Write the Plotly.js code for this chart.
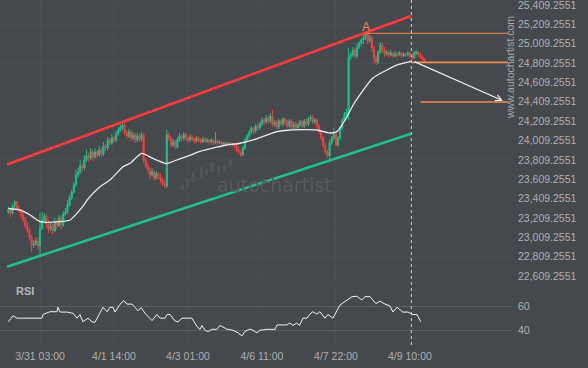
<!DOCTYPE html>
<html><head><meta charset="utf-8">
<script src="https://cdn.plot.ly/plotly-3.0.1.min.js"></script>
<style>html,body{margin:0;padding:0;background:#45484c;}#chart{width:588px;height:368px;}</style>
</head><body><div id="chart"></div>
<script>
const opens=[
23271,23292,23261,23333,23374,23312,23281,23240,23188,23126,
23085,23013,22930,22941,22971,22920,23106,23188,23230,23147,
23095,23126,23075,23168,23126,23209,23137,23250,23271,23343,
23416,23478,23550,23653,23684,23746,23726,23808,23850,23829,
23891,23839,23891,23860,23912,23870,23953,23932,24015,23984,
24035,24015,24077,24118,24139,24170,24087,24056,24097,24035,
24066,24015,24056,24025,24066,23808,23746,23705,23653,23684,
23622,23664,23643,23602,23560,23540,24066,24035,23963,23994,
23943,24015,24056,24035,24077,24035,24015,24046,24025,24004,
24035,24015,23994,24025,24004,24015,23994,24015,23984,24004,
23984,23994,23973,23984,23973,23984,23963,23973,23953,23912,
23891,23860,23932,24015,24056,24097,24139,24108,24159,24139,
24180,24221,24201,24242,24211,24263,24170,24201,24149,24211,
24180,24232,24201,24159,24211,24149,24180,24139,24170,24201,
24159,24211,24180,24232,24252,24201,24221,24159,24097,24035,
23953,23891,23850,23984,24035,24077,23963,24035,24139,24221,
24273,24304,24872,24893,24944,24883,24975,25017,25048,25068,
25110,25037,25068,24965,24862,24821,24924,24996,24944,24903,
24924,24893,24913,24883,24903,24893,24913,24883,24903,24893,
24913,24883,24862,24913,24924,24893,24872,24841];
const highs=[
23323,23312,23354,23395,23385,23343,23302,23271,23219,23168,
23106,23034,22982,23003,23013,23261,23271,23261,23250,23188,
23168,23147,23209,23199,23240,23230,23281,23312,23395,23447,
23498,23581,23705,23726,23808,23777,23860,23912,23881,23932,
23912,23932,23912,23953,23932,23994,23973,24046,24035,24077,
24056,24108,24149,24170,24201,24201,24118,24128,24118,24097,
24087,24087,24077,24097,24087,23829,23777,23736,23726,23705,
23695,23684,23664,23622,23591,24118,24097,24056,24025,24015,
24046,24087,24077,24097,24087,24056,24077,24066,24046,24056,
24056,24035,24046,24046,24035,24025,24035,24025,24097,24025,
24004,24004,23994,23994,23994,23994,23984,23984,23973,23943,
23912,23953,24035,24077,24118,24159,24149,24180,24180,24201,
24252,24242,24273,24263,24294,24325,24221,24221,24232,24232,
24252,24242,24221,24232,24232,24201,24201,24190,24221,24221,
24232,24232,24252,24273,24273,24242,24242,24180,24118,24056,
23984,23912,24015,24056,24139,24097,24056,24159,24242,24304,
24335,24965,24924,24975,24965,25006,25037,25068,25099,25120,
25110,25099,25089,24986,24893,24944,25027,25017,24975,24944,
24934,24944,24924,24934,24924,24934,24924,24924,24913,24934,
24924,24903,24934,24944,24934,24913,24893,24862];
const lows=[
23250,23219,23240,23312,23292,23261,23209,23168,23106,23054,
22982,22858,22899,22920,22879,22806,23085,23168,23106,23054,
23075,23034,23064,23095,23116,23095,23116,23230,23250,23323,
23395,23457,23529,23622,23664,23684,23705,23788,23788,23808,
23798,23819,23829,23839,23839,23850,23901,23912,23953,23963,
23984,23994,24056,24097,24118,24066,24025,24035,24004,24015,
23984,23994,23994,24004,23777,23726,23674,23612,23633,23591,
23602,23612,23571,23540,23519,23519,24004,23932,23943,23922,
23922,23994,24004,24015,24004,23984,23994,24004,23973,23984,
23994,23973,23984,23984,23984,23963,23984,23963,23973,23963,
23973,23953,23963,23953,23963,23943,23953,23932,23891,23870,
23839,23850,23912,23994,24035,24077,24077,24087,24108,24118,
24159,24170,24180,24180,24190,24149,24149,24128,24128,24159,
24159,24170,24139,24139,24128,24128,24118,24118,24149,24139,
24139,24159,24159,24211,24180,24180,24139,24077,24015,23932,
23870,23829,23808,23963,24015,23943,23943,24015,24118,24201,
24252,24221,24841,24872,24862,24862,24955,24986,25006,25048,
25006,25017,24924,24810,24790,24800,24903,24913,24872,24883,
24862,24883,24862,24872,24872,24883,24862,24872,24872,24883,
24862,24841,24852,24893,24872,24852,24831,24810];
const closes=[
23292,23261,23333,23374,23312,23281,23240,23188,23126,23085,
23013,22930,22941,22971,22920,23106,23188,23230,23147,23095,
23126,23075,23168,23126,23209,23137,23250,23271,23343,23416,
23478,23550,23653,23684,23746,23726,23808,23850,23829,23891,
23839,23891,23860,23912,23870,23953,23932,24015,23984,24035,
24015,24077,24118,24139,24170,24087,24056,24097,24035,24066,
24015,24056,24025,24066,23808,23746,23705,23653,23684,23622,
23664,23643,23602,23560,23540,24066,24035,23963,23994,23943,
24015,24056,24035,24077,24035,24015,24046,24025,24004,24035,
24015,23994,24025,24004,24015,23994,24015,23984,24004,23984,
23994,23973,23984,23973,23984,23963,23973,23953,23912,23891,
23860,23932,24015,24056,24097,24139,24108,24159,24139,24180,
24221,24201,24242,24211,24263,24170,24201,24149,24211,24180,
24232,24201,24159,24211,24149,24180,24139,24170,24201,24159,
24211,24180,24232,24252,24201,24221,24159,24097,24035,23953,
23891,23850,23984,24035,24077,23963,24035,24139,24221,24273,
24304,24872,24893,24944,24883,24975,25017,25048,25068,25110,
25037,25068,24965,24862,24821,24924,24996,24944,24903,24924,
24893,24913,24883,24903,24893,24913,24883,24903,24893,24913,
24883,24862,24913,24924,24893,24872,24841,24821];

const tickBars=[15,50,85,120,155,190];
const tickLabels=['3/31 03:00','4/1 14:00','4/3 01:00','4/6 11:00','4/7 22:00','4/9 10:00'];
const priceTicks=[22609.2551,22809.2551,23009.2551,23209.2551,23409.2551,23609.2551,23809.2551,24009.2551,24209.2551,24409.2551,24609.2551,24809.2551,25009.2551,25209.2551,25409.2551];
const rsiTicks=[40,60];

const channelBars=[-0.6,190.5];
const resistance=[23762,25296];
const support=[22706,24080];

const maBars=[0,5.5,10.3,15,24.5,29.2,33.9,38.6,43.4,48.1,54.3,57.6,63.1,68.4,74.9,79.7,85.9,90.7,98.6,103.3,109.6,115.8,127.1,133.2,146,152.2,155.5,159.3,164,172.5,179.1,183.9,190.5];
const maVals=[23307,23292,23240,23171,23171,23188,23292,23429,23532,23602,23739,23774,23877,23824,23772,23808,23855,23896,23940,23963,23981,24015,24101,24118,24118,24087,24101,24221,24407,24655,24738,24790,24826];

const rsiBars=[0,2.2,4.1,15.9,16.4,19.7,23,23.5,24.5,27.8,30.6,32.5,33.9,35.3,37.7,39.6,41,43.4,44.8,46.7,48.1,49.5,50.5,52.8,54.7,56.1,58.5,59.9,61.4,62.8,64.7,68,70.3,71.8,74.1,75.1,76.5,78.9,80.3,82.2,84.5,86.9,89.3,90.7,91.6,93,94.5,96.4,98.7,100.1,103.4,106.3,108.7,110.5,111.9,114.3,115.7,117.6,119,122.4,126.2,127.1,131.8,133.2,134.7,136.4,137.8,139.4,141.3,142.7,144.1,146,147.4,149.8,151.2,153.6,156.9,160.2,162.6,164.9,167.3,168.7,171.1,173.9,175.8,178.2,180.6,182,183.9,186.7,189.1,191.4,193.3,195.2];
const rsiVals=[47,52,50,50,53,55.3,55.3,59,55,55,54,50,53,47,50,47,46.6,54,59,55.3,59,59,55,61.4,64.4,61.6,61.6,59,56,58.7,54,48,53,50,50,53,53,47.6,47,50,50,50,43,40.8,44,40,39,40.8,40.8,44,41,40,38,35.3,39,41,40,38,40,40.8,40.8,44.4,44.4,46,44,46,44,50,50,53.4,55.3,53.4,55.3,50,53,50,60.8,65,67.7,68,65,67.7,67.7,62,64,61.6,60,55,59,55,55,53,53,47];

const levelVals=[25117,24817,24407];
const levelStartBars=[169.1,190.8,195.1];
const levelEndBar=236.4;
const patternEndBar=190.7;
const pointABar=169.1;
const arrowStart=[191.4,24831];
const arrowEnd=[234,24420];

const bars=opens.map((_,i)=>i);
function fmt(v){const p=v.toFixed(4).split('.');return p[0].replace(/\B(?=(\d{3})+(?!\d))/g,',')+'.'+p[1];}

const GREEN='#17c28b', RED='#f23f3f', ORANGE='#f28a4a';
const FONT={family:'"Liberation Sans", Arial, sans-serif',size:10.5,color:'#aeb0b2'};

const traces=[
 {type:'candlestick',x:bars,open:opens,high:highs,low:lows,close:closes,xaxis:'x',yaxis:'y',
  increasing:{line:{color:GREEN,width:1},fillcolor:GREEN},
  decreasing:{line:{color:RED,width:1},fillcolor:RED},hoverinfo:'skip',whiskerwidth:0},
 {type:'scatter',mode:'lines',x:channelBars,y:resistance,line:{color:'#ff3a3a',width:2.6},hoverinfo:'skip'},
 {type:'scatter',mode:'lines',x:channelBars,y:support,line:{color:'#1dc18e',width:2.6},hoverinfo:'skip'},
 {type:'scatter',mode:'lines',x:maBars,y:maVals,line:{color:'#ececec',width:1.3,shape:'spline',smoothing:0.6},hoverinfo:'skip'},
 {type:'scatter',mode:'lines',x:rsiBars,y:rsiVals,xaxis:'x',yaxis:'y2',line:{color:'#f2f2f2',width:1},hoverinfo:'skip'}
];
levelVals.forEach((v,i)=>{
 traces.push({type:'scatter',mode:'lines',x:[levelStartBars[i],levelEndBar],y:[v,v],
  line:{color:ORANGE,width:i===0?1:1.6},hoverinfo:'skip'});
});

const W=512,H=345;
const px=(x)=>x/W, py=(y)=>1-y/H;
const icon=[[181,184,184,190],[186,189,178,190],[192,195,172,182],[200,203,167,178],[205,208,170,175],[210,214,163,172],[217,220,167,175],[223,226,165,172],[229,232,158,167]];
const shapes=[
 {type:'line',xref:'x',yref:'paper',x0:patternEndBar,x1:patternEndBar,y0:0,y1:1,
  line:{color:'#cfcfcf',width:1,dash:'3px,3px'}}
];
icon.forEach(r=>shapes.push({type:'rect',xref:'paper',yref:'paper',x0:px(r[0]),x1:px(r[1]),y0:py(r[3]),y1:py(r[2]),
  fillcolor:'#515458',line:{width:0},layer:'below'}));

const annotations=[
 {xref:'x',yref:'y',x:arrowEnd[0],y:arrowEnd[1],ax:arrowStart[0],ay:arrowStart[1],axref:'x',ayref:'y',
  showarrow:true,arrowhead:5,arrowsize:1,arrowwidth:1.2,arrowcolor:'#f0f0f0',text:''},
 {xref:'x',yref:'y',x:pointABar,y:levelVals[0],text:'A',showarrow:false,yanchor:'bottom',yshift:-3,
  font:{family:'"Liberation Sans", Arial, sans-serif',size:12,color:ORANGE}},
 {xref:'paper',yref:'paper',x:px(14),y:py(291),text:'<b>RSI</b>',showarrow:false,xanchor:'left',yanchor:'middle',
  font:{family:'"Liberation Sans", Arial, sans-serif',size:11,color:'#b4b6b8'}},
 {xref:'paper',yref:'paper',x:px(274),y:py(185),text:'autochartist',showarrow:false,xanchor:'center',yanchor:'middle',
  font:{family:'"DejaVu Sans", sans-serif',size:19,color:'#575a5e'}},
 {xref:'paper',yref:'paper',x:px(510),y:py(68),text:'www.autochartist.com',showarrow:false,textangle:-90,
  xanchor:'center',yanchor:'middle',font:{family:'"Liberation Sans", Arial, sans-serif',size:10.5,color:'#a6a8aa'}}
];

const layout={
 width:588,height:368,margin:{l:0,r:76,t:0,b:23},
 paper_bgcolor:'#45484c',plot_bgcolor:'#45484c',showlegend:false,hovermode:false,dragmode:false,
 boxgap:0.45,boxgroupgap:0,
 xaxis:{domain:[0,1],range:[-3.93,238.3],anchor:'y2',tickmode:'array',tickvals:tickBars,ticktext:tickLabels,
  tickfont:FONT,showgrid:true,gridcolor:'#4a4d51',zeroline:false,showline:false,ticks:'',ticklabelstandoff:3,
  rangeslider:{visible:false},fixedrange:true},
 yaxis:{domain:[0.1884,1],range:[22568.2,25460.9],side:'right',anchor:'x',tickmode:'array',
  tickvals:priceTicks,ticktext:priceTicks.map(fmt),tickfont:FONT,showgrid:true,gridcolor:'#4a4d51',
  zeroline:false,showline:false,ticks:'',ticklabelstandoff:5,ticklabeloverflow:'allow',fixedrange:true},
 yaxis2:{domain:[0,0.1739],range:[27.9,77.3],side:'right',anchor:'x',tickmode:'array',tickvals:rsiTicks,
  ticktext:rsiTicks.map(String),tickfont:FONT,showgrid:true,gridcolor:'#5c5f61',zeroline:false,
  showline:false,ticks:'',ticklabelstandoff:5,fixedrange:true},
 shapes:shapes,annotations:annotations
};
Plotly.newPlot('chart',traces,layout,{staticPlot:true,displayModeBar:false});
</script></body></html>
